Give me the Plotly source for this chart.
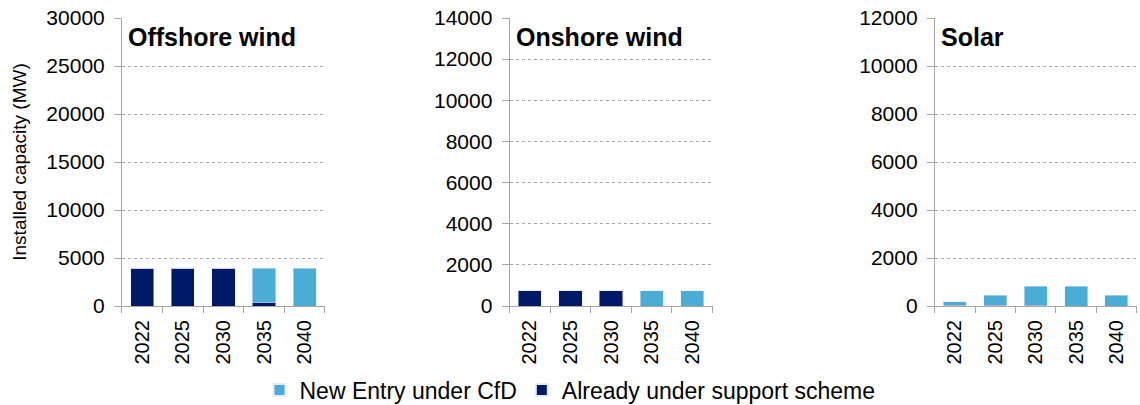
import plotly.graph_objects as go
from plotly.subplots import make_subplots

years = ["2022", "2025", "2030", "2035", "2040"]

offshore_new = [0, 0, 0, 3550, 3950]
offshore_existing = [3950, 3950, 3950, 400, 0]

onshore_new = [0, 0, 0, 750, 750]
onshore_existing = [750, 750, 750, 0, 0]

solar_new = [140, 420, 790, 830, 450]
solar_existing = [40, 30, 40, 0, 0]

panel_titles = ["Offshore wind", "Onshore wind", "Solar"]
y_max = [30000, 14000, 12000]
y_step = [5000, 2000, 2000]

light = "#4bacd6"
dark = "#001a68"
FONT = "Liberation Sans, Arial"

fig = make_subplots(rows=1, cols=3)

panels = [
    (offshore_new, offshore_existing),
    (onshore_new, onshore_existing),
    (solar_new, solar_existing),
]

for i, (new_vals, old_vals) in enumerate(panels, start=1):
    fig.add_trace(go.Bar(x=years, y=old_vals, name="Already under support scheme",
                         marker_color=dark, showlegend=(i == 1), legendrank=2),
                  row=1, col=i)
    fig.add_trace(go.Bar(x=years, y=new_vals, name="New Entry under CfD",
                         marker_color=light, showlegend=(i == 1), legendrank=1),
                  row=1, col=i)

x_domains = [[0.107, 0.285], [0.447, 0.625], [0.820, 0.997]]

for i in range(3):
    xa = "xaxis" if i == 0 else f"xaxis{i+1}"
    ya = "yaxis" if i == 0 else f"yaxis{i+1}"
    fig.layout[xa].update(
        domain=x_domains[i], type="category", tickangle=-90,
        showline=True, linecolor="#a6a6a6", linewidth=1,
        ticks="outside", tickson="boundaries", ticklen=6, tickcolor="#a6a6a6",
        tickfont=dict(family=FONT, size=20, color="#000"), ticklabelstandoff=5,
        showgrid=False, automargin=False,
    )
    fig.layout[ya].update(
        domain=[0, 1], range=[0, y_max[i]], dtick=y_step[i], tickformat="d",
        showline=True, linecolor="#a6a6a6", linewidth=1,
        showgrid=True, gridcolor="#a8a8a8", griddash="dot", gridwidth=1,
        tickfont=dict(family=FONT, size=21, color="#000"), ticklabelstandoff=5,
        ticks="outside", ticklen=7, tickcolor="#a6a6a6", zeroline=False,
        automargin=False,
    )
    fig.add_annotation(
        text=f"<b>{panel_titles[i]}</b>", xref=f"x{'' if i == 0 else i+1} domain",
        yref=f"y{'' if i == 0 else i+1} domain", x=0.02, y=0.99,
        xanchor="left", yanchor="top", showarrow=False,
        font=dict(family=FONT, size=25, color="#000"),
    )

fig.update_yaxes(title_text="Installed capacity (MW)", title_standoff=14,
                 title_font=dict(family=FONT, size=19, color="#000"),
                 row=1, col=1)

fig.update_layout(
    barmode="stack", bargap=0.43,
    width=1140, height=405,
    margin=dict(l=0, r=0, t=18, b=99, autoexpand=False),
    plot_bgcolor="white", paper_bgcolor="white",
    legend=dict(orientation="h", x=0.5, xanchor="center", y=-0.292, yanchor="middle",
                font=dict(family=FONT, size=23, color="#000"),
                traceorder="normal", itemwidth=30, itemsizing="constant"),
)

fig.write_html("out.html")
